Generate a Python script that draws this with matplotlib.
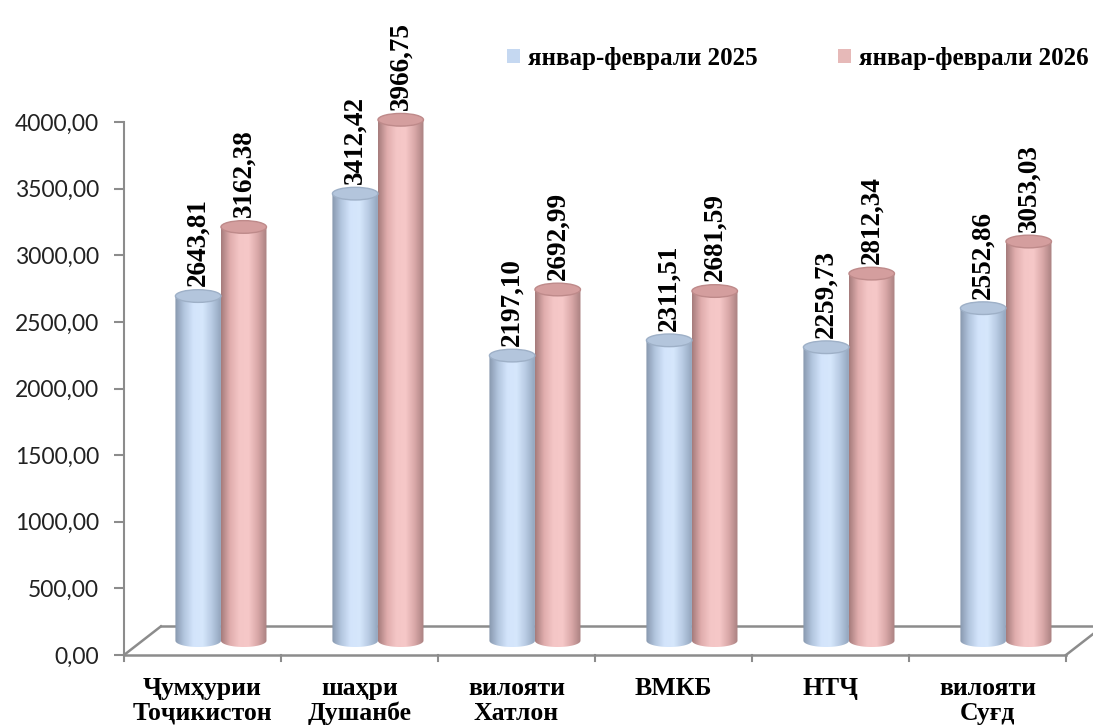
import numpy as np
import matplotlib
matplotlib.use('Agg')
from matplotlib import pyplot as plt
from matplotlib.patches import Ellipse, Rectangle
from matplotlib.colors import LinearSegmentedColormap

categories = ['Ҷумҳурии\nТоҷикистон', 'шаҳри\nДушанбе', 'вилояти\nХатлон',
              'ВМКБ', 'НТҶ', 'вилояти\nСуғд']
vals_2025 = [2643.81, 3412.42, 2197.10, 2311.51, 2259.73, 2552.86]
vals_2026 = [3162.38, 3966.75, 2692.99, 2681.59, 2812.34, 3053.03]
series_names = ['январ-феврали 2025', 'январ-феврали 2026']
yticks = [0, 500, 1000, 1500, 2000, 2500, 3000, 3500, 4000]

serif = ['Liberation Serif', 'DejaVu Serif']

fig = plt.figure(figsize=(10.93, 7.26), dpi=100)
W, H = 1093, 726
# axes: x from -0.5..5.5 over px 124..1066, y 0..4000 over px 655..122
ax = fig.add_axes([124 / W, 71 / H, 942 / W, 533 * 1.12 / H])
ax.set_xlim(-0.5, 5.5)
ax.set_ylim(0, 4000 * 1.12)
for s in ['top', 'right', 'bottom']:
    ax.spines[s].set_visible(False)
ax.spines['left'].set_bounds(0, 4000)
ax.spines['left'].set_color('#8c8c8c')
ax.spines['left'].set_linewidth(1.5)
ax.set_yticks(yticks)
ax.set_yticklabels([('%.2f' % v).replace('.', ',') for v in yticks],
                   fontsize=16.5, family='Lato', color='#222222')
ax.tick_params(axis='y', length=7, width=1.5, color='#8c8c8c', pad=11)
ax.set_xticks([])

# 3D depth (in data units)
dx = 0.235
dy = 215
lc = '#8c8c8c'
ax.plot([-0.5, 5.5], [0, 0], color=lc, lw=1.8, clip_on=False)
ax.plot([-0.5 + dx, 5.5 + dx], [dy, dy], color=lc, lw=1.8, clip_on=False)
ax.plot([-0.5, -0.5 + dx], [0, dy], color=lc, lw=1.8, clip_on=False)
ax.plot([5.5, 5.5 + dx], [0, dy], color=lc, lw=1.8, clip_on=False)
for i in range(7):
    ax.plot([i - 0.5, i - 0.5], [0, -45], color=lc, lw=1.5, clip_on=False)

blue_cm = LinearSegmentedColormap.from_list('b', ['#8797ad', '#b3c6df', '#d3e4fb', '#d6e7fc', '#b8cbe3', '#93a5bd'])
pink_cm = LinearSegmentedColormap.from_list('p', ['#a57b7b', '#e0adad', '#f4c6c6', '#f6c8c8', '#d9a8a8', '#a98080'])
grad = np.linspace(0, 1, 256).reshape(1, -1)

bw = 0.29
eh = 95  # ellipse height in data units
base = dy / 2
top_off = 50  # top of cylinder sits a bit lower than the mid-depth plane


def cylinder(xc, val, cmap, topc, edgec):
    x0, x1 = xc - bw / 2, xc + bw / 2
    top = top_off + val
    im = ax.imshow(grad, cmap=cmap, aspect='auto', extent=[x0, x1, base - eh / 2, top],
                   origin='lower', zorder=3, interpolation='bilinear')
    t = np.linspace(np.pi, 2 * np.pi, 40)
    verts = [(x0, top)] + [(xc + bw / 2 * np.cos(a), base + eh / 2 * np.sin(a)) for a in t] + [(x1, top), (x0, top)]
    patch = plt.Polygon(verts, closed=True, transform=ax.transData, facecolor='none', edgecolor='none')
    ax.add_patch(patch)
    im.set_clip_path(patch)
    ax.add_patch(Ellipse((xc, top), bw, eh, facecolor=topc, edgecolor=edgec, lw=1, zorder=4))
    return top


for i in range(len(categories)):
    xb = i + dx / 2 - bw / 2
    xp = i + dx / 2 + bw / 2
    for xc, v, cm_, tc, ec in [(xb, vals_2025[i], blue_cm, '#b3c5dc', '#9eb0c7'),
                               (xp, vals_2026[i], pink_cm, '#d49e9e', '#be8a8a')]:
        top = cylinder(xc, v, cm_, tc, ec)
        ax.text(xc, top + eh / 2 + 25, ('%.2f' % v).replace('.', ','), rotation=90,
                ha='center', va='bottom', fontsize=19.5, fontweight='bold', family=serif,
                zorder=5)
    ax.text(i, -165, categories[i], ha='center', va='top', fontsize=18.5,
            fontweight='bold', family=serif, linespacing=1.1)

handles = [Rectangle((0, 0), 1, 1, facecolor='#c5d8f1'), Rectangle((0, 0), 1, 1, facecolor='#e6b9b8')]
leg = fig.legend(handles, series_names, loc='center right', bbox_to_anchor=(1089 / W, 1 - 58 / H),
                 ncol=2, frameon=False, handlelength=0.5, handleheight=0.5, handletextpad=0.35,
                 columnspacing=3.2, borderpad=0, borderaxespad=0,
                 prop={'family': serif, 'weight': 'bold', 'size': 18})

fig.savefig('out.png', dpi=100)
